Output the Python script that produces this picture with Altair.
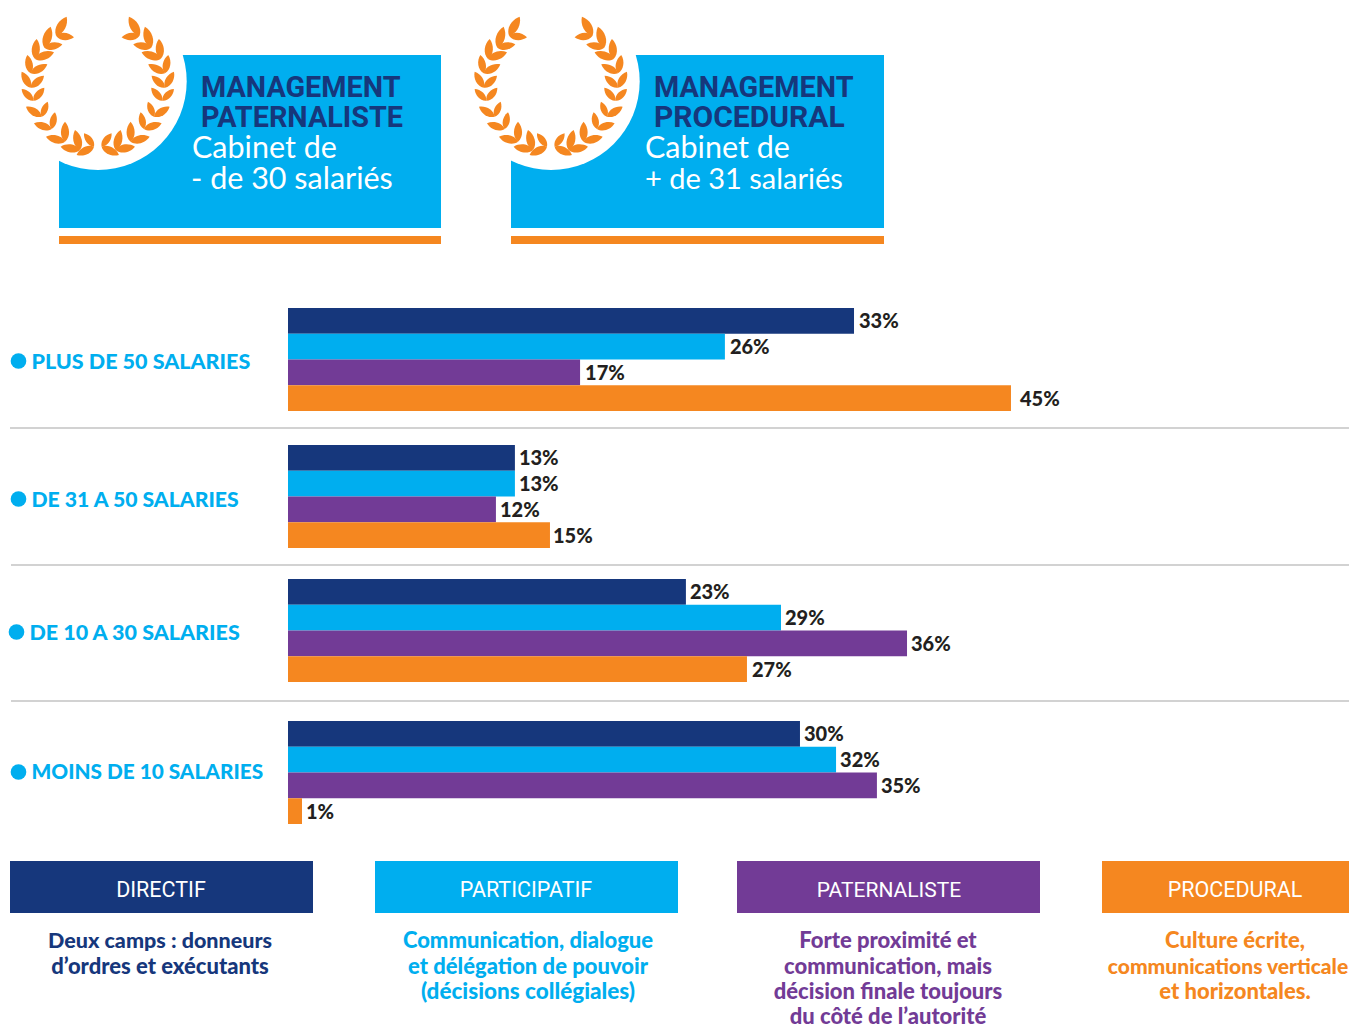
import math
import altair as alt
import pandas as pd

W, H = 1341, 1017
NAVY, BLUE, PURPLE, ORANGE = "#16377c", "#00aeef", "#723b96", "#f58720"
GREY, DARK, WHITE = "#d2d2d2", "#231f20", "#ffffff"
FONT = "Lato"
RIGHT = 8 + W

# ---- data
groups = ["PLUS DE 50 SALARIES", "DE 31 A 50 SALARIES", "DE 10 A 30 SALARIES", "MOINS DE 10 SALARIES"]
series = ["DIRECTIF", "PARTICIPATIF", "PATERNALISTE", "PROCEDURAL"]
series_colors = [NAVY, BLUE, PURPLE, ORANGE]
# bar lengths as drawn, in percentage units
drawn_values = [
    [33.10, 25.55, 17.08, 42.28],
    [13.27, 13.27, 12.16, 15.32],
    [23.27, 28.83, 36.20, 26.84],
    [29.94, 32.05, 34.44, 0.82],
]
# the printed percentages
printed_values = [
    [33, 26, 17, 45],
    [13, 13, 12, 15],
    [23, 29, 36, 27],
    [30, 32, 35, 1],
]
# ---- layout (page pixels)
group_tops = [308, 445, 579, 721]
row_height = 25.75
label_gaps = [[5, 5, 5, 9], [4, 4, 4, 3], [4, 4, 4, 5], [4, 4, 4, 4]]
bar_x0, px_per_unit = 288, 17.1

rows = []
for g, name in enumerate(groups):
    for s, sname in enumerate(series):
        v = drawn_values[g][s]
        rows.append(dict(group=name, series=sname, zero=0, value=v,
                         label_pos=v + label_gaps[g][s] / px_per_unit,
                         label=f"{printed_values[g][s]}%",
                         top=group_tops[g] + s * row_height,
                         bottom=group_tops[g] + (s + 1) * row_height,
                         mid=group_tops[g] + (s + 0.5) * row_height + 7.5))
bars_df = pd.DataFrame(rows)

PX = alt.Scale(domain=[8, 8 + W], range=[0, W])
PY = alt.Scale(domain=[8, 8 + H], range=[0, H])
VAL = alt.Scale(domain=[0, 50], range=[bar_x0 - 8, bar_x0 - 8 + 50 * px_per_unit])
COL = alt.Scale(domain=series, range=series_colors)


def xq(f, scale=PX):
    return alt.X(f"{f}:Q", scale=scale, axis=None)


def yq(f):
    return alt.Y(f"{f}:Q", scale=PY, axis=None)


def rects(items):
    df = pd.DataFrame(items, columns=["x", "x2", "y", "y2", "c"])
    return alt.Chart(df).mark_rect().encode(
        x=xq("x"), x2="x2:Q", y=yq("y"), y2="y2:Q",
        color=alt.Color("c:N", scale=None, legend=None))


def texts(items, weight, align="left", font=FONT):
    df = pd.DataFrame(items, columns=["t", "x", "y", "c", "s"])
    return alt.Chart(df).mark_text(font=font, fontWeight=weight, align=align, baseline="alphabetic").encode(
        x=xq("x"), y=yq("y"), text="t:N",
        color=alt.Color("c:N", scale=None, legend=None),
        size=alt.Size("s:Q", scale=None, legend=None))


# ---- header
boxes = rects([
    (59, 441, 55, 228, BLUE), (59, 441, 236, 244, ORANGE),
    (511, 884, 55, 228, BLUE), (511, 884, 236, 244, ORANGE),
])
circles_df = pd.DataFrame({"x": [98, 551], "y": [81.3, 81.3]})
circles = alt.Chart(circles_df).mark_point(filled=True, opacity=1, shape="circle", size=31471, color=WHITE, clip=True).encode(
    x=xq("x"), y=yq("y"))

# laurel: vertex, outer tip, inner tip of each pair of leaves, left half
laurel_pairs = [
    ((138, 92), (170, 35), (192, 97)),
    ((103, 128), (122, 65), (157, 118)),
    ((75, 162), (80, 102), (132, 142)),
    ((62, 205), (52, 150), (112, 178)),
    ((62, 248), (35, 200), (102, 212)),
    ((70, 287), (35, 252), (103, 248)),
    ((95, 335), (48, 305), (113, 290)),
    ((125, 372), (72, 355), (135, 322)),
    ((165, 410), (108, 395), (165, 350)),
    ((210, 435), (152, 425), (195, 375)),
    ((252, 425), (200, 450), (222, 385)),
]
laurel_origin = (10, 5)
laurel_axis = 97.8
laurel_shift = 453
leaves = []
for offs in (0, laurel_shift):
    for side in (1, -1):
        for v, o, i in laurel_pairs:
            for tip in (o, i):
                x1, y1 = v[0] / 3 + laurel_origin[0], v[1] / 3 + laurel_origin[1]
                x2, y2 = tip[0] / 3 + laurel_origin[0], tip[1] / 3 + laurel_origin[1]
                if side < 0:
                    x1, x2 = 2 * laurel_axis - x1, 2 * laurel_axis - x2
                length = math.hypot(x2 - x1, y2 - y1)
                leaves.append(dict(x=(x1 + x2) / 2 + offs, y=(y1 + y2) / 2,
                                   a=math.degrees(math.atan2(y2 - y1, x2 - x1)) % 360,
                                   s=length * length))
LEAF = "M-1,0 C-0.5,-0.58 0.45,-0.5 1,0 C0.45,0.5 -0.5,0.58 -1,0 Z"
laurels = alt.Chart(pd.DataFrame(leaves)).mark_point(filled=True, opacity=1, shape=LEAF, color=ORANGE).encode(
    x=xq("x"), y=yq("y"),
    angle=alt.Angle("a:Q", scale=None),
    size=alt.Size("s:Q", scale=None, legend=None))

head_bold = texts([
    ("MANAGEMENT", 201, 97, NAVY, 28.8), ("PATERNALISTE", 201, 127, NAVY, 28.8),
    ("MANAGEMENT", 654, 97, NAVY, 28.8), ("PROCEDURAL", 654, 127, NAVY, 30),
], 700, font="Roboto")
head_reg = texts([
    ("Cabinet de", 192, 158, WHITE, 30.5), ("- de 30 salariés", 191, 189, WHITE, 30.5),
    ("Cabinet de", 645, 158, WHITE, 30.5), ("+ de 31 salariés", 645, 189, WHITE, 29),
], 400)

# ---- bars
bars = alt.Chart(bars_df).mark_bar(cornerRadius=0).encode(
    x=alt.X("zero:Q", scale=VAL, axis=None), x2="value:Q",
    y=yq("top"), y2="bottom:Q",
    color=alt.Color("series:N", scale=COL, legend=None))
labels = alt.Chart(bars_df).mark_text(font=FONT, fontWeight=900, fontSize=20, align="left",
                                      baseline="alphabetic", color=DARK).encode(
    x=alt.X("label_pos:Q", scale=VAL, axis=None), y=yq("mid"), text="label:N")

separators = rects([(10, RIGHT, 427, 429, GREY), (11, RIGHT, 564, 566, GREY), (11, RIGHT, 700, 702, GREY)])

bullets_df = pd.DataFrame({"x": [18.5, 18.5, 16.5, 18.5], "y": [361, 499, 632, 772]})
bullets = alt.Chart(bullets_df).mark_point(filled=True, opacity=1, shape="circle", size=246, color=BLUE).encode(
    x=xq("x"), y=yq("y"))
group_labels = texts([
    (groups[0], 31.5, 369, BLUE, 21.5), (groups[1], 31.5, 507, BLUE, 21.2),
    (groups[2], 29.5, 640, BLUE, 21.5), (groups[3], 31.5, 779, BLUE, 20.8),
], 900)

# ---- key
key = rects([
    (10, 313, 861, 913, NAVY), (375, 678, 861, 913, BLUE),
    (737, 1040, 861, 913, PURPLE), (1102, RIGHT, 861, 913, ORANGE),
])
key_names = texts([
    (series[0], 161, 897, WHITE, 21.5), (series[1], 526, 897, WHITE, 21.5),
    (series[2], 889, 897, WHITE, 21), (series[3], 1235, 897, WHITE, 21.5),
], 400, align="center", font="Roboto")
key_text = texts([
    ("Deux camps : donneurs", 160, 948, NAVY, 21.5), ("d’ordres et exécutants", 160, 974, NAVY, 22),
    ("Communication, dialogue", 528, 948, BLUE, 22), ("et délégation de pouvoir", 528, 974, BLUE, 22),
    ("(décisions collégiales)", 528, 999, BLUE, 22.5),
    ("Forte proximité et", 888, 948, PURPLE, 22), ("communication, mais", 888, 974, PURPLE, 22),
    ("décision finale toujours", 888, 999, PURPLE, 22), ("du côté de l’autorité", 888, 1024, PURPLE, 22),
    ("Culture écrite,", 1235, 948, ORANGE, 22), ("communications verticale", 1228, 974, ORANGE, 21),
    ("et horizontales.", 1235, 999, ORANGE, 22),
], 900, align="center")

chart = alt.layer(
    boxes, circles, laurels, head_bold, head_reg, separators,
    bars, labels, bullets, group_labels, key, key_names, key_text,
).resolve_scale(x="independent", y="independent", color="independent", size="independent", angle="independent").properties(
    width=W, height=H, padding=0, background=WHITE
).configure_view(stroke=None)

chart.save("out.html", embed_options={"renderer": "svg", "actions": False})
